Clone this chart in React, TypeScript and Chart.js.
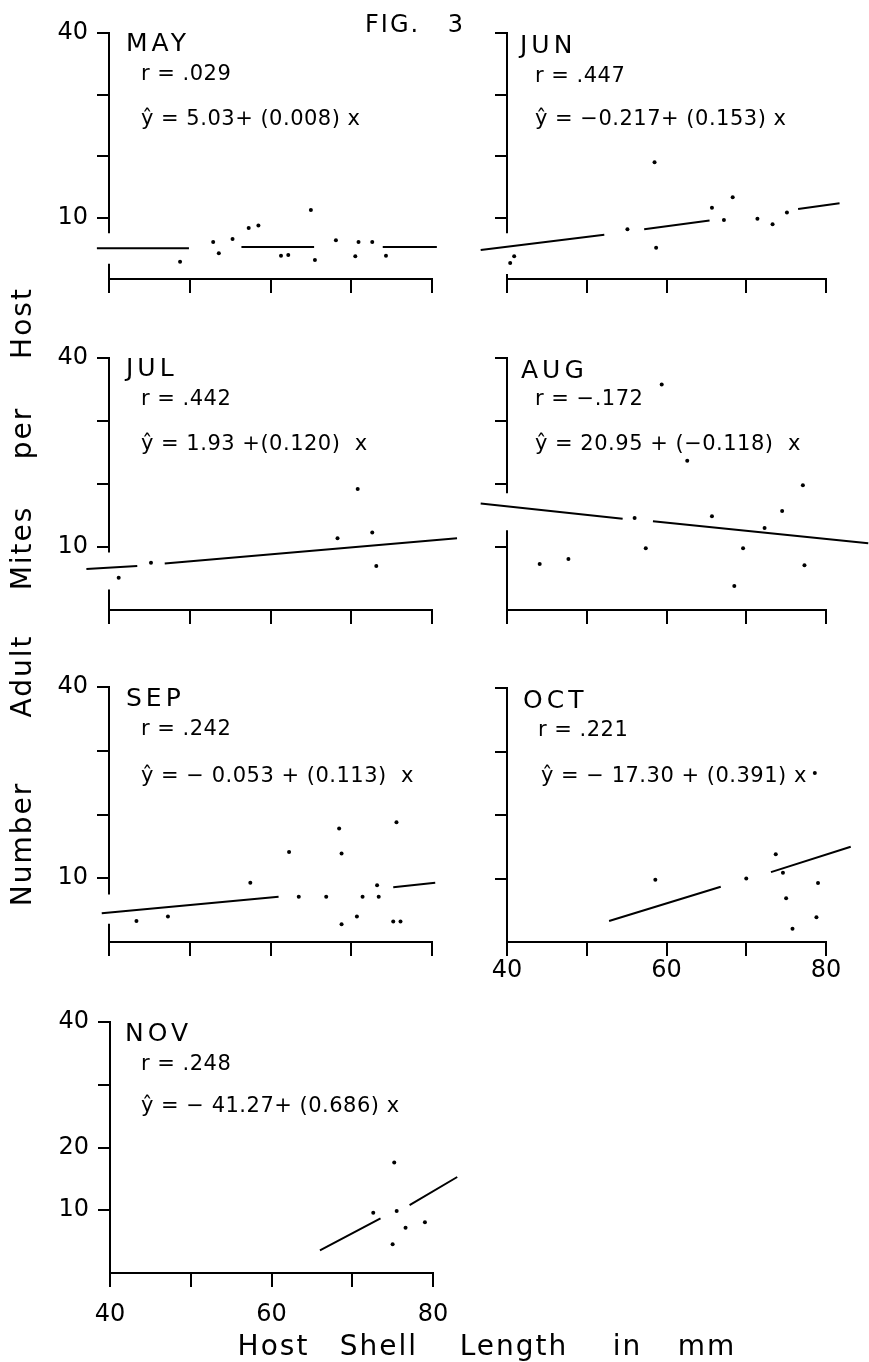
import React, { useEffect, useRef } from 'react';
import { Chart, registerables } from 'chart.js';

Chart.register(...registerables);

const FONT = '"DejaVu Sans", "Liberation Sans", sans-serif';
const INK = '#000000';

// ---------------- data ----------------
const X_TICK_VALUES = [40, 50, 60, 70, 80];
const X_TICK_LABELS = [40, 60, 80];
const Y_TICK_LABELS_STD = [40, 10];
const Y_TICK_LABELS_NOV = [40, 20, 10];

const MAY_X = [48.8, 52.9, 53.6, 55.3, 57.3, 58.5, 61.3, 62.2, 65.0, 65.5, 68.1, 70.5, 70.9, 72.6, 74.3];
const MAY_Y = [2.8, 6.0, 4.2, 6.5, 8.3, 8.7, 3.8, 3.9, 11.2, 3.1, 6.3, 3.7, 6.0, 6.0, 3.8];
const MAY_FIT_X = [38.5, 49.9, 56.4, 65.4, 73.9, 80.6];
const MAY_FIT_Y = [5.0, 5.0, 5.2, 5.2, 5.2, 5.2];

const JUN_X = [58.5, 68.3, 65.7, 67.2, 71.4, 73.3, 75.1, 81.0, 55.1, 58.7, 40.9, 40.4];
const JUN_Y = [19.0, 13.3, 11.6, 9.6, 9.8, 8.9, 10.8, 7.6, 8.1, 5.1, 3.7, 2.6];
const JUN_FIT_X = [36.7, 52.2, 57.2, 65.4, 76.5, 81.7];
const JUN_FIT_Y = [4.7, 7.2, 8.1, 9.5, 11.4, 12.3];

const JUL_X = [70.8, 68.3, 72.6, 73.1, 82.0, 45.2, 41.2, 37.0, 84.1, 84.6];
const JUL_Y = [19.2, 11.4, 12.3, 7.0, 5.2, 7.5, 5.1, 4.2, 11.4, 10.0];
const JUL_FIT_X = [37.2, 43.5, 46.9, 83.1];
const JUL_FIT_Y = [6.5, 7.0, 7.4, 11.4];

const AUG_X = [59.4, 62.6, 77.1, 81.5, 74.5, 65.7, 56.0, 72.3, 57.4, 69.6, 47.7, 44.1, 77.3, 81.0, 68.5, 85.0, 83.1];
const AUG_Y = [35.8, 23.7, 19.8, 17.6, 15.7, 14.9, 14.6, 13.0, 9.8, 9.8, 8.1, 7.3, 7.1, 8.8, 3.8, 5.8, 1.0];
const AUG_FIT_X = [36.7, 54.5, 58.3, 85.3];
const AUG_FIT_Y = [16.9, 14.5, 14.1, 10.6];

const SEP_X = [75.6, 68.5, 62.3, 68.8, 57.5, 73.2, 63.5, 66.9, 71.4, 73.4, 70.7, 68.8, 75.2, 76.1, 47.3, 43.4];
const SEP_Y = [18.8, 17.8, 14.1, 13.9, 9.3, 8.9, 7.1, 7.1, 7.1, 7.1, 4.0, 2.8, 3.2, 3.2, 4.0, 3.3];
const SEP_FIT_X = [39.1, 61.0, 75.2, 80.4];
const SEP_FIT_Y = [4.5, 7.1, 8.6, 9.3];

const OCT_X = [82.9, 78.6, 73.7, 74.6, 70.0, 58.6, 82.0, 79.0, 82.5, 75.0, 78.8, 75.8, 81.3];
const OCT_Y = [44.2, 26.6, 13.8, 10.9, 10.0, 9.8, 10.7, 9.3, 8.3, 6.9, 3.9, 2.1, 2.0];
const OCT_FIT_X = [52.8, 66.8, 73.1, 83.1];
const OCT_FIT_Y = [3.3, 8.7, 11.0, 15.0];

const NOV_X = [80.8, 75.2, 75.5, 72.6, 79.0, 76.6, 75.0, 81.2];
const NOV_Y = [30.0, 17.6, 9.9, 9.6, 8.1, 7.2, 4.6, 3.6];
const NOV_FIT_X = [66.0, 73.5, 77.1, 83.0];
const NOV_FIT_Y = [3.6, 8.7, 10.8, 15.3];

const MONTHS = ['MAY', 'JUN', 'JUL', 'AUG', 'SEP', 'OCT', 'NOV'];
const R_TEXT = ['r = .029', 'r = .447', 'r = .442', 'r = \u2212.172', 'r = .242', 'r = .221', 'r = .248'];
const EQ_TEXT = [
  '\u0177 = 5.03+ (0.008) x',
  '\u0177 = \u22120.217+ (0.153) x',
  '\u0177 = 1.93 +(0.120)  x',
  '\u0177 = 20.95 + (\u22120.118)  x',
  '\u0177 = \u2212 0.053 + (0.113)  x',
  '\u0177 = \u2212 17.30 + (0.391) x',
  '\u0177 = \u2212 41.27+ (0.686) x',
];
// axis breaks on the y-axis (value range where the axis line is interrupted)
const MAY_GAP = [2.3, 7.6];
const JUN_GAP = [0.65, 7.6];
const JUL_GAP = [3.1, 9.3];
const AUG_GAP = [12.5, 18.7];
const SEP_GAP = [2.7, 7.6];

const Y_TITLE_WORDS = ['Host', 'per', 'Mites', 'Adult', 'Number'];
const X_TITLE_WORDS = ['Host', 'Shell', 'Length', 'in', 'mm'];

// ---------------- layout (styles only) ----------------
type Area = { l: number; t: number; r: number; b: number };
type TextPos = { mx: number; my: number; rx: number; ry: number; ex: number; ey: number };

const PANELS = [
  { xs: MAY_X, ys: MAY_Y, fx: MAY_FIT_X, fy: MAY_FIT_Y, gap: MAY_GAP, yl: Y_TICK_LABELS_STD, xl: [] as number[], xpad: 0,
    area: { l: 109, t: 33, r: 432, b: 279 }, txt: { mx: 126, my: 33.3, rx: 141, ry: 65, ex: 141, ey: 110 } },
  { xs: JUN_X, ys: JUN_Y, fx: JUN_FIT_X, fy: JUN_FIT_Y, gap: JUN_GAP, yl: [] as number[], xl: [] as number[], xpad: 0,
    area: { l: 507, t: 33, r: 826, b: 279 }, txt: { mx: 520, my: 35, rx: 535, ry: 67, ex: 535, ey: 110 } },
  { xs: JUL_X, ys: JUL_Y, fx: JUL_FIT_X, fy: JUL_FIT_Y, gap: JUL_GAP, yl: Y_TICK_LABELS_STD, xl: [] as number[], xpad: 0,
    area: { l: 109, t: 358, r: 432, b: 610 }, txt: { mx: 126, my: 358, rx: 141, ry: 390, ex: 141, ey: 435 } },
  { xs: AUG_X, ys: AUG_Y, fx: AUG_FIT_X, fy: AUG_FIT_Y, gap: AUG_GAP, yl: [] as number[], xl: [] as number[], xpad: 0,
    area: { l: 507, t: 358, r: 826, b: 610 }, txt: { mx: 521, my: 360, rx: 535, ry: 390, ex: 535, ey: 435 } },
  { xs: SEP_X, ys: SEP_Y, fx: SEP_FIT_X, fy: SEP_FIT_Y, gap: SEP_GAP, yl: Y_TICK_LABELS_STD, xl: [] as number[], xpad: 0,
    area: { l: 109, t: 687, r: 432, b: 942 }, txt: { mx: 126, my: 688, rx: 141, ry: 720, ex: 141, ey: 767 } },
  { xs: OCT_X, ys: OCT_Y, fx: OCT_FIT_X, fy: OCT_FIT_Y, gap: null as number[] | null, yl: [] as number[], xl: X_TICK_LABELS, xpad: 0,
    area: { l: 507, t: 688, r: 826, b: 942 }, txt: { mx: 523, my: 690, rx: 538, ry: 721, ex: 541, ey: 767 } },
  { xs: NOV_X, ys: NOV_Y, fx: NOV_FIT_X, fy: NOV_FIT_Y, gap: null as number[] | null, yl: Y_TICK_LABELS_NOV, xl: X_TICK_LABELS, xpad: 13,
    area: { l: 110, t: 1022, r: 433, b: 1273 }, txt: { mx: 125, my: 1023, rx: 141, ry: 1055, ex: 141, ey: 1097 } },
];

const PAD_L = 110, PAD_R = 70, PAD_T = 50, PAD_B = 75;
const Y_W = 70, X_H = 65;
const TICK_FONT = 24;

function buildSegments(fx: number[], fy: number[]) {
  const out: { x: number; y: number | null }[] = [];
  for (let i = 0; i + 1 < fx.length; i += 2) {
    if (i > 0) out.push({ x: fx[i - 1], y: null });
    out.push({ x: fx[i], y: fy[i] });
    out.push({ x: fx[i + 1], y: fy[i + 1] });
  }
  return out;
}

function Panel({ idx }: { idx: number }) {
  const p = PANELS[idx];
  const ref = useRef<HTMLCanvasElement>(null);
  const a: Area = p.area;
  const w = a.r - a.l + PAD_L + PAD_R;
  const h = a.b - a.t + PAD_T + PAD_B;

  useEffect(() => {
    const gap = p.gap;
    const yAxisPlugin = {
      id: 'yAxisLine' + idx,
      beforeDatasetsDraw(chart: any) {
        const { ctx, chartArea, scales } = chart;
        const ys = scales.y;
        const x = Math.round(chartArea.left);
        const pieces = gap ? [[40, gap[1]], [gap[0], 0]] : [[40, 0]];
        ctx.save();
        ctx.strokeStyle = INK;
        ctx.lineWidth = 2;
        pieces.forEach(([v1, v2]) => {
          ctx.beginPath();
          ctx.moveTo(x, ys.getPixelForValue(v1) - 1);
          ctx.lineTo(x, ys.getPixelForValue(v2) + 1);
          ctx.stroke();
        });
        ctx.restore();
      },
    };

    const chart = new Chart(ref.current as HTMLCanvasElement, {
      type: 'scatter',
      data: {
        datasets: [
          {
            data: p.xs.map((x, i) => ({ x, y: p.ys[i] })),
            pointRadius: 2,
            pointBackgroundColor: INK,
            pointBorderWidth: 0,
            showLine: false,
            clip: false,
          } as any,
          {
            data: buildSegments(p.fx, p.fy),
            showLine: true,
            spanGaps: false,
            borderColor: INK,
            borderWidth: 2,
            pointRadius: 0,
            clip: false,
          } as any,
        ],
      },
      options: {
        animation: false,
        responsive: false,
        maintainAspectRatio: false,
        devicePixelRatio: 1,
        events: [],
        layout: { padding: { left: PAD_L - Y_W, right: PAD_R, top: PAD_T, bottom: PAD_B - X_H } },
        plugins: { legend: { display: false }, tooltip: { enabled: false } },
        scales: {
          x: {
            type: 'linear',
            min: 40,
            max: 80,
            afterFit: (s: any) => { s.height = X_H; },
            afterBuildTicks: (s: any) => { s.ticks = X_TICK_VALUES.map((v) => ({ value: v })); },
            border: { display: true, color: INK, width: 2 },
            grid: { display: true, drawOnChartArea: false, drawTicks: true, tickLength: 14, color: INK, lineWidth: 2 },
            ticks: {
              autoSkip: false,
              maxRotation: 0,
              padding: p.xpad,
              color: INK,
              font: { family: FONT, size: TICK_FONT },
              callback: (v: any) => (p.xl.includes(Number(v)) ? String(v) : ''),
            },
          },
          y: {
            type: 'linear',
            min: 0,
            max: 40,
            afterFit: (s: any) => { s.width = Y_W; },
            border: { display: false },
            grid: {
              display: true,
              drawOnChartArea: false,
              drawTicks: true,
              tickLength: 12,
              lineWidth: 2,
              color: (c: any) => (c.tick && c.tick.value === 0 ? 'rgba(0,0,0,0)' : INK),
            },
            ticks: {
              stepSize: 10,
              autoSkip: false,
              padding: 9,
              color: INK,
              font: { family: FONT, size: TICK_FONT },
              callback: (v: any) => (p.yl.includes(Number(v)) ? String(v) : ''),
            },
          },
        },
      } as any,
      plugins: [yAxisPlugin as any],
    });
    return () => chart.destroy();
  }, []);

  const t: TextPos = p.txt;
  const txt = (left: number, capTop: number, size: number, s: string, ls = 0) => (
    <div
      style={{
        position: 'absolute',
        left,
        top: capTop - 0.117 * size,
        fontFamily: FONT,
        fontSize: size,
        lineHeight: `${size}px`,
        letterSpacing: ls,
        whiteSpace: 'pre',
        color: INK,
      }}
    >
      {s}
    </div>
  );

  return (
    <>
      <canvas
        ref={ref}
        width={w}
        height={h}
        style={{ position: 'absolute', left: a.l - PAD_L, top: a.t - PAD_T, width: w, height: h }}
      />
      {txt(t.mx, t.my, 25, MONTHS[idx], 4)}
      {txt(t.rx, t.ry, 21, R_TEXT[idx], 0.5)}
      {txt(t.ex, t.ey, 21, EQ_TEXT[idx], 0.5)}
    </>
  );
}

const Y_TITLE_CY = [322.5, 432.5, 548, 676, 843.5];
const X_TITLE_CX = [273.5, 379, 514, 627.5, 707];

export default function App() {
  const word = (s: string, cx: number, cy: number, rotate: boolean, key: string) => (
    <div
      key={key}
      style={{
        position: 'absolute',
        left: cx,
        top: cy,
        transform: `translate(-50%, -50%)${rotate ? ' rotate(-90deg)' : ''}`,
        fontFamily: FONT,
        fontSize: 28,
        lineHeight: '28px',
        letterSpacing: 2,
        whiteSpace: 'nowrap',
        color: INK,
      }}
    >
      {s}
    </div>
  );

  return (
    <div style={{ position: 'absolute', left: 0, top: 0, width: 869, height: 1362, background: '#fff', overflow: 'hidden' }}>
      {PANELS.map((_, i) => (
        <Panel key={i} idx={i} />
      ))}
      <div
        style={{
          position: 'absolute',
          left: 365,
          top: 15 - 0.117 * 24,
          fontFamily: FONT,
          fontSize: 24,
          lineHeight: '24px',
          letterSpacing: 2,
          wordSpacing: 18,
          whiteSpace: 'pre',
          color: INK,
        }}
      >
        FIG. 3
      </div>
      {Y_TITLE_WORDS.map((s, i) => word(s, 22, Y_TITLE_CY[i], true, 'y' + i))}
      {X_TITLE_WORDS.map((s, i) => word(s, X_TITLE_CX[i], 1345.5, false, 'x' + i))}
    </div>
  );
}
